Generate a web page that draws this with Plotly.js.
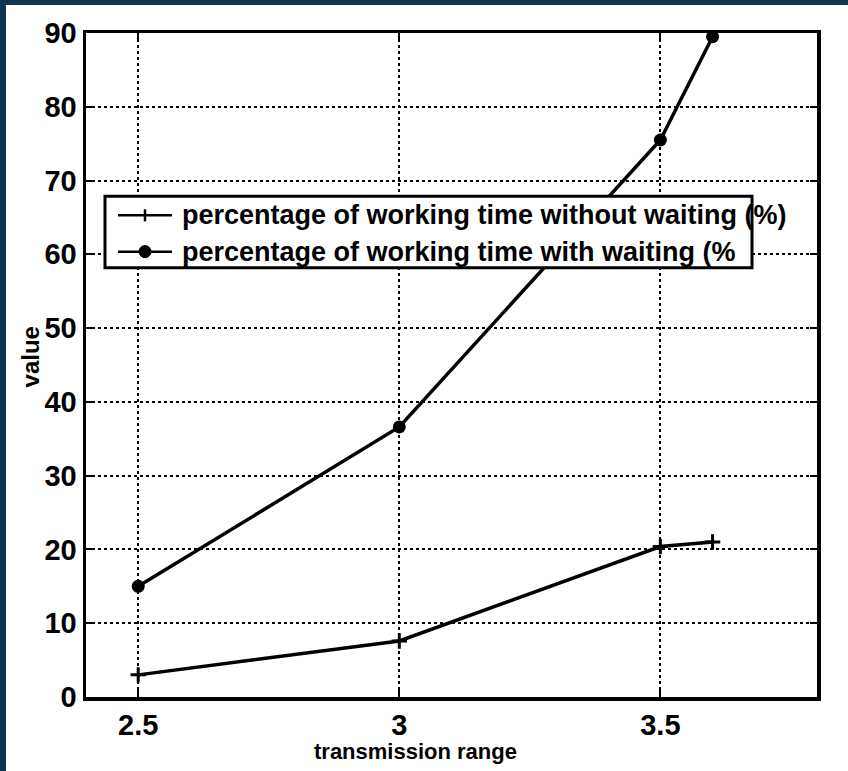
<!DOCTYPE html>
<html>
<head>
<meta charset="utf-8">
<script src="https://cdn.plot.ly/plotly-3.0.1.min.js"></script>
<style>
html,body{margin:0;padding:0;background:#10334f;width:848px;height:771px;overflow:hidden;}
#chart{position:absolute;left:6px;top:5px;width:842px;height:766px;background:#fff;}
</style>
</head>
<body>
<div id="chart"></div>
<script>
// Data
const xRange = [2.5, 3, 3.5, 3.6];
const withoutWaiting = [3, 7.6, 20.4, 21];
const withWaiting = [15, 36.6, 75.5, 89.5];
const seriesNames = [
  "percentage of working time without waiting (%)",
  "percentage of working time with waiting (%"
];
const xTicks = [2.5, 3, 3.5];
const xTickText = ["2.5", "3", "3.5"];
const yTicks = [0, 10, 20, 30, 40, 50, 60, 70, 80, 90];

// plot area in absolute page pixels: left 86, right 817, top 33, bottom 692
const PW = 731, PH = 659;
const px = X => (X - 86) / PW;
const py = Y => (692 - Y) / PH;

const FONT = {family: "Liberation Sans, Arial, sans-serif", color: "#000", weight: "bold"};

const traces = [
  {x: xRange, y: withoutWaiting, type: "scatter", mode: "lines+markers", name: seriesNames[0],
   line: {color: "#000", width: 3.5},
   marker: {symbol: "cross-thin", size: 11, line: {color: "#000", width: 3}},
   cliponaxis: false, showlegend: false},
  {x: xRange, y: withWaiting, type: "scatter", mode: "lines+markers", name: seriesNames[1],
   line: {color: "#000", width: 3.5},
   marker: {symbol: "circle", size: 13, color: "#000"},
   cliponaxis: false, showlegend: false}
];

// custom legend box (drawn over the plot like the MATLAB legend)
const lgX0 = px(105), lgX1 = px(752), lgY0 = py(266), lgY1 = py(195);
const row1 = py(214), row2 = py(250);
const sX0 = px(118), sX1 = px(172), sXm = px(145);

const shapes = [
  {type: "rect", xref: "paper", yref: "paper", x0: lgX0, x1: lgX1, y0: lgY0, y1: lgY1,
   fillcolor: "#fff", line: {color: "#000", width: 3}, layer: "above"},
  {type: "line", xref: "paper", yref: "paper", x0: sX0, x1: sX1, y0: row1, y1: row1,
   line: {color: "#000", width: 2.5}, layer: "above"},
  {type: "line", xref: "paper", yref: "paper", x0: sXm, x1: sXm, y0: row1 - 6 / PH, y1: row1 + 6 / PH,
   line: {color: "#000", width: 2.5}, layer: "above"},
  {type: "line", xref: "paper", yref: "paper", x0: sX0, x1: sX1, y0: row2, y1: row2,
   line: {color: "#000", width: 2.5}, layer: "above"},
  {type: "circle", xref: "paper", yref: "paper", x0: sXm - 6 / PW, x1: sXm + 6 / PW, y0: row2 - 6 / PH, y1: row2 + 6 / PH,
   fillcolor: "#000", line: {color: "#000", width: 1}, layer: "above"}
];

const annotations = [
  {text: seriesNames[0], xref: "paper", yref: "paper", x: px(180), y: row1, xanchor: "left", yanchor: "middle",
   showarrow: false, font: Object.assign({size: 27}, FONT)},
  {text: seriesNames[1], xref: "paper", yref: "paper", x: px(180), y: row2, xanchor: "left", yanchor: "middle",
   showarrow: false, font: Object.assign({size: 27}, FONT)},
  {text: "transmission range", xref: "paper", yref: "paper", x: px(415), y: py(746), xanchor: "center", yanchor: "middle",
   showarrow: false, font: Object.assign({size: 22}, FONT)},
  {text: "value", xref: "paper", yref: "paper", x: px(30), y: py(355), xanchor: "center", yanchor: "middle",
   textangle: -90, showarrow: false, font: Object.assign({size: 24}, FONT)}
];

const axisCommon = {
  showline: true, linecolor: "#000", linewidth: 3.5, mirror: "ticks",
  ticks: "inside", ticklen: 7, tickwidth: 2, tickcolor: "#000",
  showgrid: true, gridcolor: "#000", gridwidth: 2, griddash: "dot",
  zeroline: false, tickfont: Object.assign({size: 29}, FONT)
};

const layout = {
  width: 842, height: 766,
  margin: {l: 80, r: 31, t: 28, b: 74},
  paper_bgcolor: "#fff", plot_bgcolor: "#fff",
  showlegend: false,
  xaxis: Object.assign({}, axisCommon, {range: [2.4, 3.8], tickvals: xTicks, ticktext: xTickText}),
  yaxis: Object.assign({}, axisCommon, {range: [0, 90], tickvals: yTicks}),
  shapes: shapes,
  annotations: annotations
};

Plotly.newPlot("chart", traces, layout, {displayModeBar: false, staticPlot: true});
</script>
</body>
</html>
